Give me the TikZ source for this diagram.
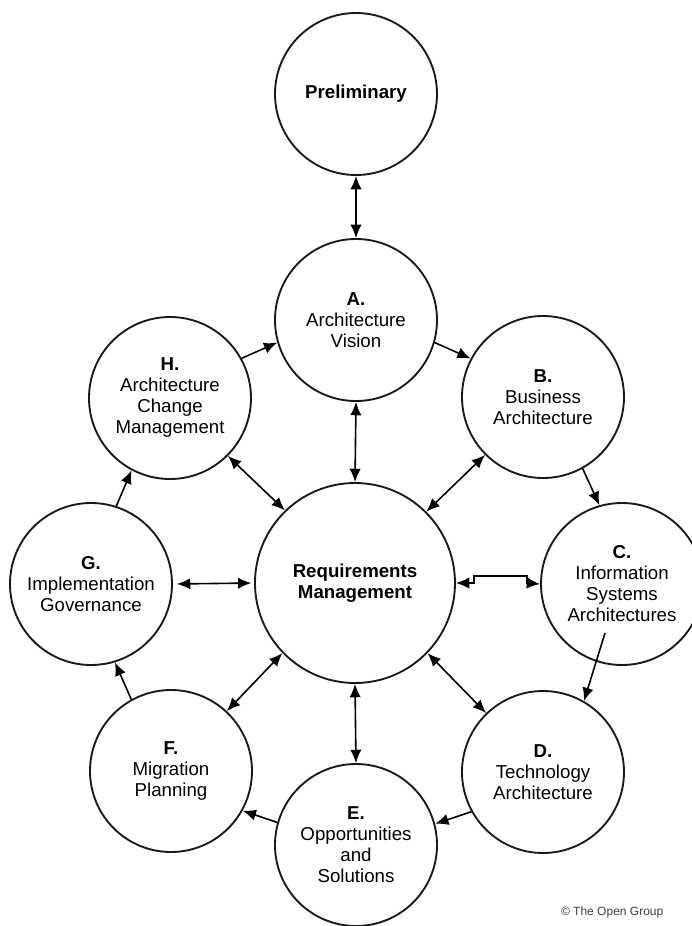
\documentclass[tikz,border=0pt]{standalone}
\usepackage{fontspec}
\setmainfont{Liberation Sans}
\usetikzlibrary{arrows.meta}
\begin{document}
\begin{tikzpicture}[x=0.75pt,y=-0.75pt,
  phase/.style={circle, draw=black!90, line width=1.4pt, fill=white, minimum size=121.5pt,
    inner sep=0pt, align=center, font=\fontsize{14}{15.75}\selectfont},
  bigphase/.style={phase, minimum size=150pt},
  tipa/.tip={Latex[length=10pt,width=8.5pt]},
  arr/.style={line width=1.2pt, -tipa},
  darr/.style={line width=1.2pt, tipa-tipa}]
\clip (0,0) rectangle (692,926);
\fill[white] (0,0) rectangle (692,926);
% circles
\node[phase] (P) at (356,94) {\textbf{Preliminary}};
\node[phase] (A) at (356,320) {\textbf{A.}\\Architecture\\Vision};
\node[phase] (H) at (170,398) {\textbf{H.}\\Architecture\\Change\\Management};
\node[phase] (B) at (543,397) {\textbf{B.}\\Business\\Architecture};
\node[phase] (G) at (91,584) {\textbf{G.}\\Implementation\\Governance};
\node[bigphase] (R) at (355,583) {\textbf{Requirements}\\\textbf{Management}};
\node[phase] (C) at (622,584) {\textbf{C.}\\Information\\Systems\\Architectures};
\node[phase] (F) at (171,771) {\textbf{F.}\\Migration\\Planning};
\node[phase] (D) at (543,772) {\textbf{D.}\\Technology\\Architecture};
\node[phase] (E) at (356,845) {\textbf{E.}\\Opportunities\\and\\Solutions};
% cycle arrows
\draw[arr] (H.29) -- (A.196);
\draw[arr] (A.-16) -- (B.152);
\draw[arr] (B.-61) -- (C.106);
\coordinate (cd) at (605,633);
\draw[arr] (cd) -- (D.60);
\draw[arr] (D.209) -- (E.15);
\draw[arr] (E.164) -- (F.-29);
\draw[arr] (F.119) -- (G.-73);
\draw[arr] (G.72) -- (H.-118);
% double arrows
\draw[darr] (P.south) -- (A.north);
\draw[darr] (A.south) -- (R.north);
\draw[darr] (R.south) -- (E.north);
\draw[darr] (H.-45) -- (R.134);
\draw[darr] (B.225) -- (R.45);
\draw[darr] (R.-136) -- (F.47);
\draw[darr] (R.-44) -- (D.134);
\draw[darr, shorten <=3pt, shorten >=2pt] (G.east) -- (R.west);
\coordinate (rc1) at (474,583);
\coordinate (rc2) at (527,583);
\draw[darr, line join=miter] (R.east) -- (rc1) -- ++(0,-7) -| (rc2) -- (C.west);
% credit
\node[anchor=east, font=\fontsize{9}{10}\selectfont, text=black!75] (cr) at (668,912) {\textcopyright{} The Open Group};
\end{tikzpicture}
\end{document}
